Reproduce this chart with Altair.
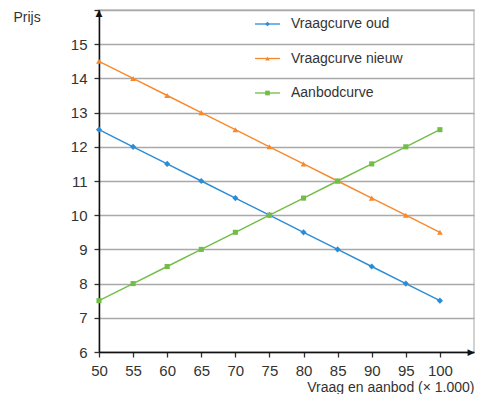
import altair as alt
import pandas as pd

# ---- data ----
hoeveelheid = [50, 55, 60, 65, 70, 75, 80, 85, 90, 95, 100]
vraag_oud = [12.5, 12, 11.5, 11, 10.5, 10, 9.5, 9, 8.5, 8, 7.5]
vraag_nieuw = [14.5, 14, 13.5, 13, 12.5, 12, 11.5, 11, 10.5, 10, 9.5]
aanbod = [7.5, 8, 8.5, 9, 9.5, 10, 10.5, 11, 11.5, 12, 12.5]

series_names = ["Vraagcurve oud", "Vraagcurve nieuw", "Aanbodcurve"]
series_values = [vraag_oud, vraag_nieuw, aanbod]

x_ticks = [50, 55, 60, 65, 70, 75, 80, 85, 90, 95, 100]
y_ticks = [6, 7, 8, 9, 10, 11, 12, 13, 14, 15, 16]
X_MIN, X_MAX = 50, 105
Y_MIN, Y_MAX = 6, 16

# ---- styles ----
colors = ["#2b8cd6", "#f7892c", "#72bd45"]
shapes = ["diamond", "triangle-up", "square"]
marker_sizes = [38, 34, 26]
FONT = "Liberation Sans"
TXT = "#333333"
W, H = 375, 342
PAD = {"left": 91, "top": 2, "right": 1, "bottom": 42}
LEG_X0, LEG_X1, LEG_TX = 156, 181, 192
LEG_Y = [14, 48.5, 83]

rows = []
for name, vals in zip(series_names, series_values):
    for q, p in zip(hoeveelheid, vals):
        rows.append({"serie": name, "q": q, "p": p})
df = pd.DataFrame(rows)

xscale = alt.Scale(domain=[X_MIN, X_MAX], nice=False, zero=False)
yscale = alt.Scale(domain=[Y_MIN, Y_MAX], nice=False, zero=False)

x_enc = alt.X(
    "q:Q", scale=xscale,
    axis=alt.Axis(
        values=x_ticks, grid=False, title="Vraag en aanbod (× 1.000)",
        titleAnchor="end", titleAlign="right", titleX=W, titleY=35,
        titleBaseline="middle", titleFontWeight="normal",
        labelFlush=False, labelOverlap=False,
    ),
)
y_enc = alt.Y(
    "p:Q", scale=yscale,
    axis=alt.Axis(
        values=y_ticks, grid=True, title="Prijs",
        labelExpr="datum.value == 16 ? '' : datum.label",
        labelOverlap=False,
        titleAngle=0, titleAlign="left", titleBaseline="middle",
        titleX=-86, titleY=7, titleFontWeight="normal",
    ),
)

base = alt.Chart(df).encode(x=x_enc, y=y_enc)

color_scale = alt.Scale(domain=series_names, range=colors)

lines = base.mark_line(strokeWidth=1.4).encode(
    color=alt.Color("serie:N", scale=color_scale, legend=None),
    detail="serie:N",
)

point_layers = []
for name, col, shp, sz in zip(series_names, colors, shapes, marker_sizes):
    point_layers.append(
        base.transform_filter(alt.datum.serie == name)
        .mark_point(filled=True, shape=shp, size=sz, color=col, opacity=1)
    )

one = pd.DataFrame({"a": [0]})

legend_layers = []
for name, col, shp, ly in zip(series_names, colors, shapes, LEG_Y):
    legend_layers.append(
        alt.Chart(one).mark_rule(color=col, strokeWidth=1.3).encode(
            x=alt.value(LEG_X0), x2=alt.value(LEG_X1), y=alt.value(ly))
    )
    legend_layers.append(
        alt.Chart(one).mark_point(filled=True, shape=shp, size=22, color=col, opacity=1).encode(
            x=alt.value((LEG_X0 + LEG_X1) / 2), y=alt.value(ly))
    )
    legend_layers.append(
        alt.Chart(one).mark_text(text=name, align="left", baseline="middle",
                                 font=FONT, fontSize=14, color=TXT).encode(
            x=alt.value(LEG_TX), y=alt.value(ly))
    )

arrow_y = alt.Chart(one).mark_text(
    text="▲", font="DejaVu Sans", fontSize=9, color="#111",
    align="center", baseline="middle"
).encode(x=alt.value(0), y=alt.value(3))
arrow_x = alt.Chart(one).mark_text(
    text="▶", font="DejaVu Sans", fontSize=9, color="#111",
    align="center", baseline="middle"
).encode(x=alt.value(W - 3), y=alt.value(H))

chart = alt.layer(lines, *point_layers, *legend_layers, arrow_y, arrow_x).properties(
    width=W, height=H,
    autosize=alt.AutoSizeParams(type="none"),
    padding=PAD,
).configure_view(
    stroke="#c4c4c4", strokeWidth=1.5
).configure_axis(
    labelFont=FONT, titleFont=FONT, labelFontSize=15, titleFontSize=14,
    labelColor=TXT, titleColor=TXT, domainColor="#111", domainWidth=1.5,
    tickColor="#333", tickSize=5, tickWidth=1.3, labelPadding=6,
    gridColor="#a9a9a9", gridWidth=1.5,
).configure_axisY(labelPadding=7)

chart.save("out.html", embed_options={"renderer": "svg", "actions": False})
